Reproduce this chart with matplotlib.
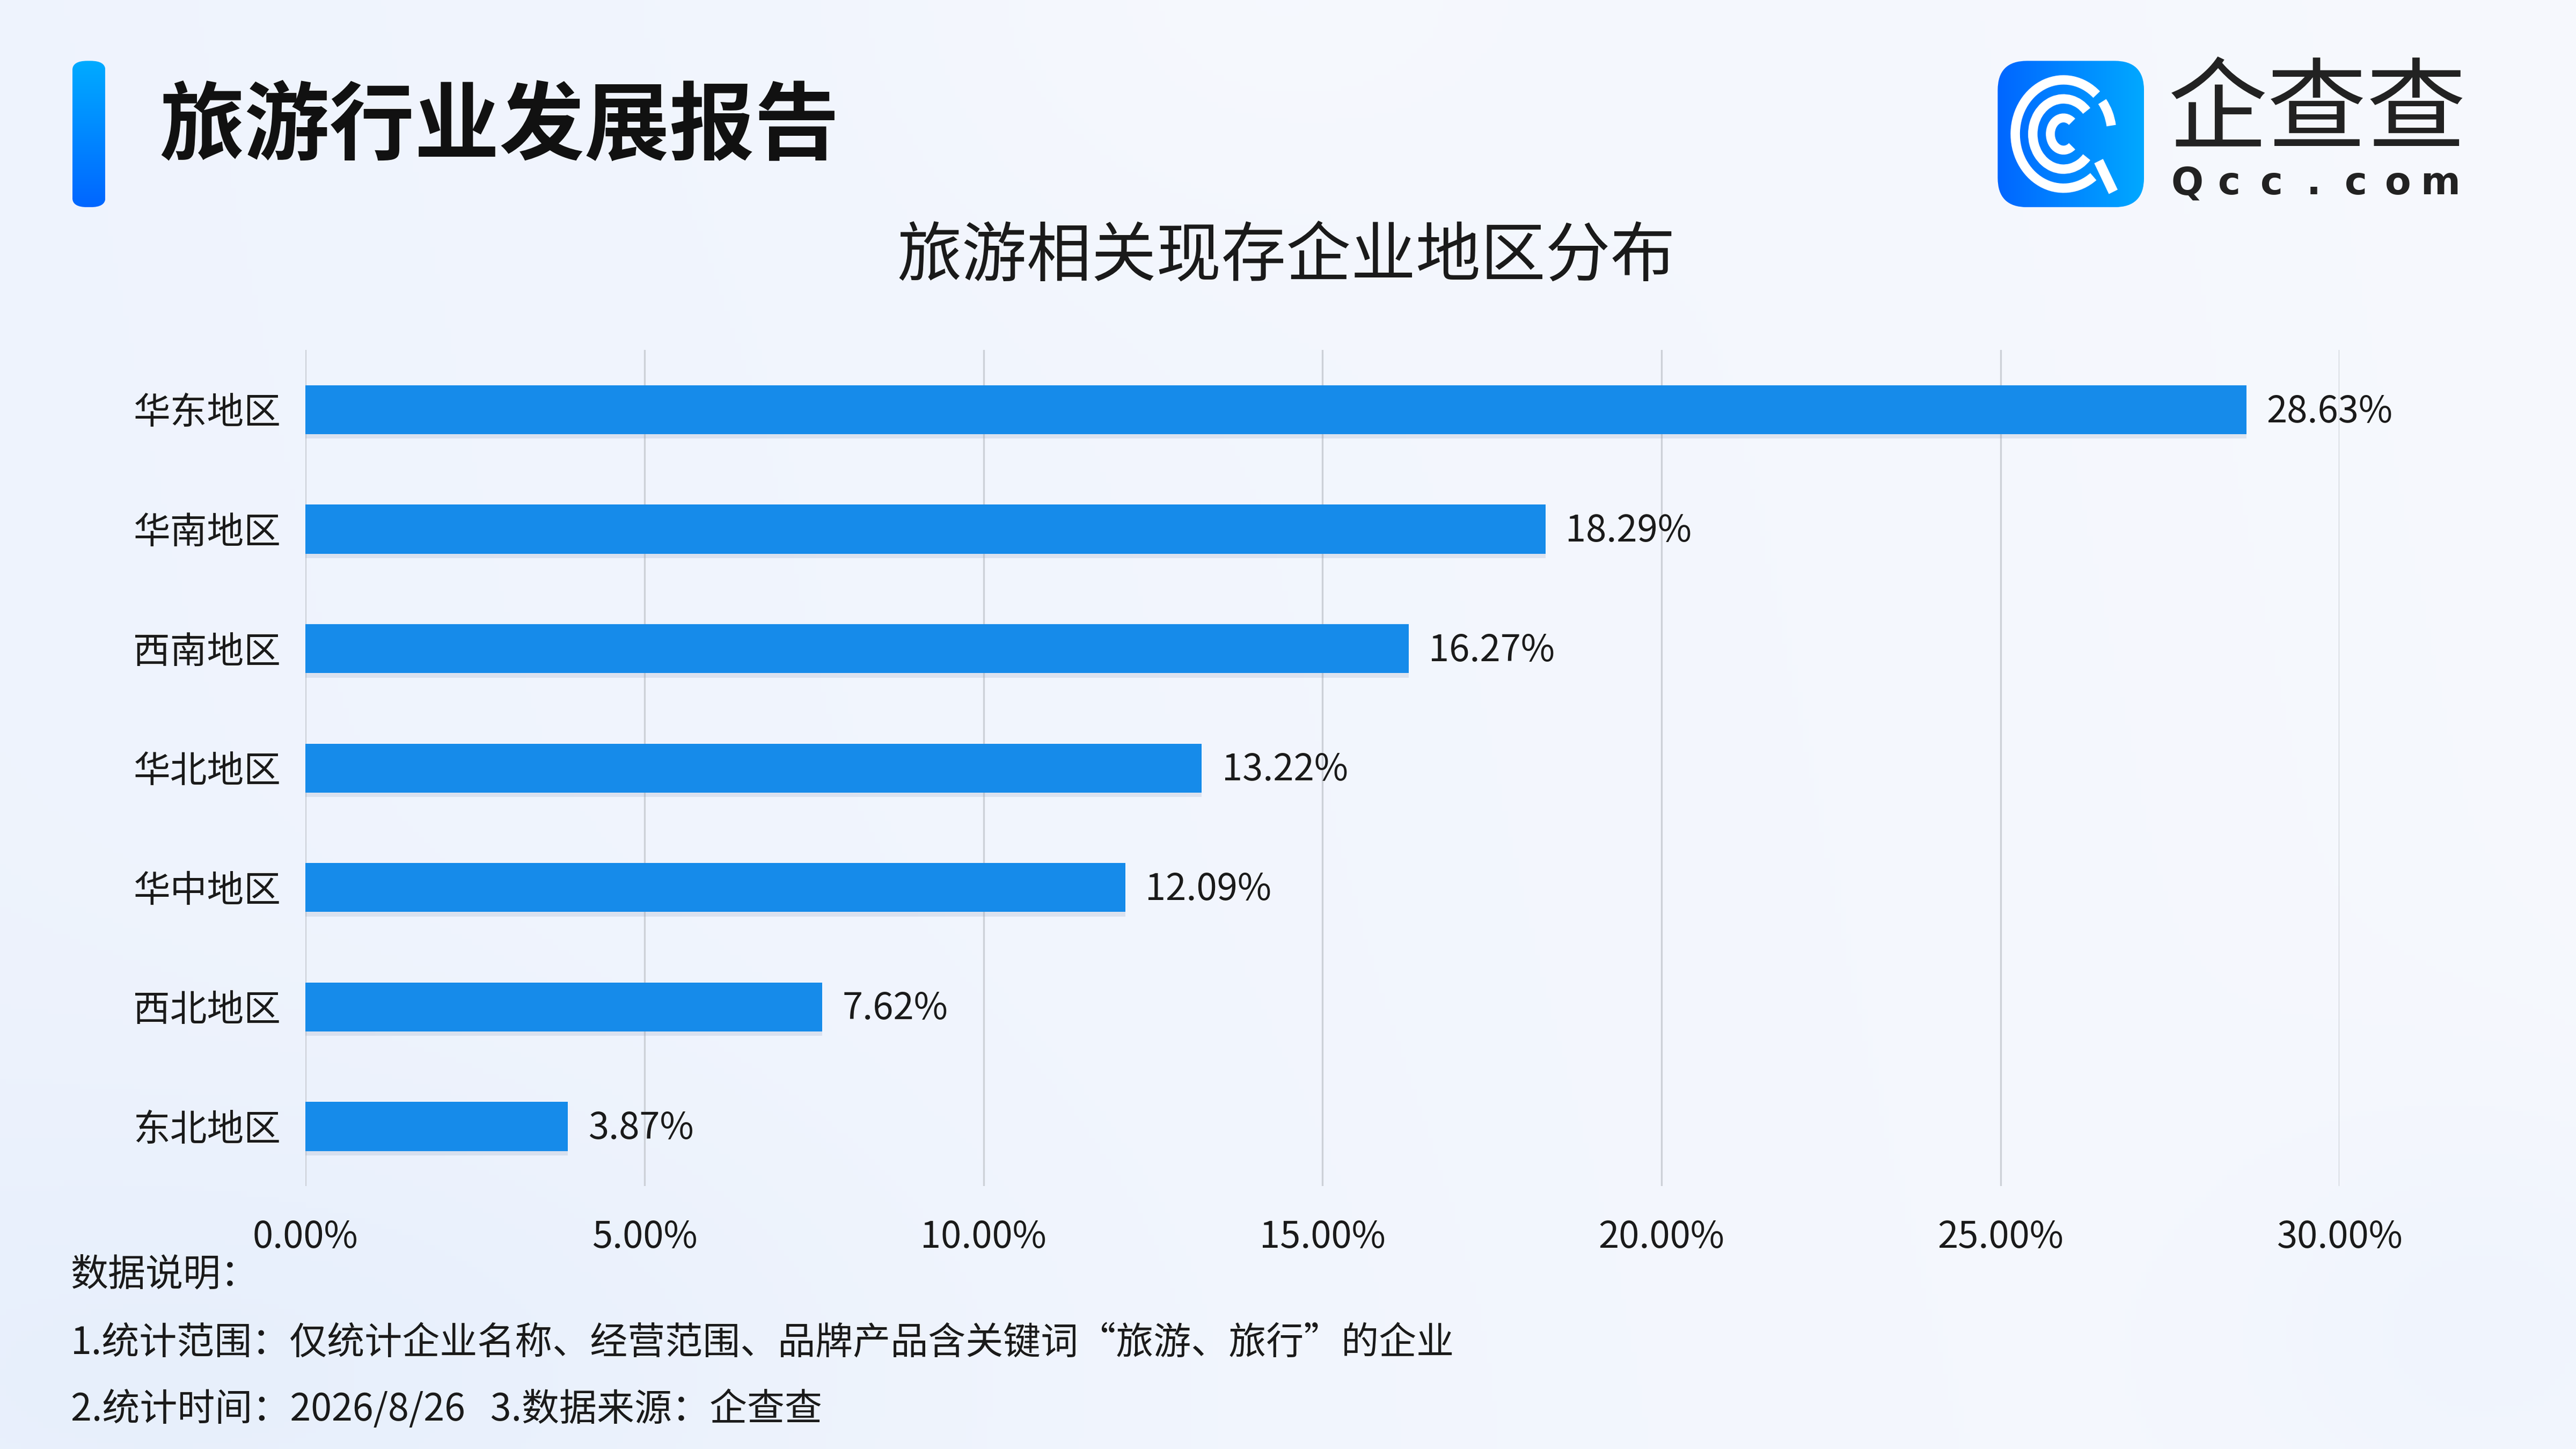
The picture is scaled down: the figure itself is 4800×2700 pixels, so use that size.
import numpy as np
import matplotlib
matplotlib.use('Agg')
import matplotlib.pyplot as plt
from matplotlib.patches import FancyBboxPatch, Arc, Polygon
import matplotlib.patheffects as pe

plt.rcParams['font.family'] = ['Noto Sans CJK SC', 'DejaVu Sans']

# data
regions = ['华东地区', '华南地区', '西南地区', '华北地区', '华中地区', '西北地区', '东北地区']
shares = [28.63, 18.29, 16.27, 13.22, 12.09, 7.62, 3.87]
x_ticks = [0, 5, 10, 15, 20, 25, 30]

title = '旅游行业发展报告'
subtitle = '旅游相关现存企业地区分布'
notes = ['数据说明：',
         '1.统计范围：仅统计企业名称、经营范围、品牌产品含关键词“旅游、旅行”的企业',
         '2.统计时间：2026/8/26   3.数据来源：企查查']

fig = plt.figure(figsize=(16, 9), dpi=300)

# background gradient
bg = fig.add_axes([0, 0, 1, 1], zorder=-10)
h, w = 270, 480
yy, xx = np.mgrid[0:1:h*1j, 0:1:w*1j]
base = np.array([0.933, 0.953, 0.992])
right = np.array([0.968, 0.976, 0.996])
t = np.clip(xx * 0.9 + (1 - yy) * 0.1, 0, 1)[..., None]
img = base * (1 - t) + right * t
blob = np.exp(-(((xx - 0.49) / 0.13) ** 2 + ((yy - 0.0) / 0.16) ** 2))[..., None]
img = img * (1 - 0.5 * blob) + np.array([0.975, 0.982, 0.998]) * 0.5 * blob
blob2 = np.exp(-(((xx - 0.08) / 0.25) ** 2 + ((yy - 0.95) / 0.2) ** 2))[..., None]
img = img * (1 - 0.6 * blob2) + np.array([0.89, 0.93, 0.985]) * 0.6 * blob2
blob3 = np.exp(-(((xx - 0.97) / 0.1) ** 2 + ((yy - 0.92) / 0.15) ** 2))[..., None]
img = img * (1 - 0.5 * blob3) + np.array([0.92, 0.945, 0.99]) * 0.5 * blob3
bg.imshow(img, aspect='auto', extent=[0, 1, 0, 1], origin='upper')
bg.set_xlim(0, 1)
bg.set_ylim(0, 1)
bg.axis('off')

# title accent bar with vertical gradient
tb = fig.add_axes([0.0281, 0.857, 0.0128, 0.101])
grad = np.linspace(0, 1, 100)[:, None]
c_top = np.array([0.0, 0.67, 1.0])
c_bot = np.array([0.0, 0.40, 1.0])
gimg = c_top * (1 - grad[..., None]) + c_bot * grad[..., None]
gimg = np.repeat(gimg, 10, axis=1)
im = tb.imshow(gimg, aspect='auto', extent=[0, 1, 0, 1], origin='upper')
clip = FancyBboxPatch((0, 0), 1, 1, boxstyle='round,pad=0,rounding_size=0.45',
                      mutation_aspect=0.14, transform=tb.transData, facecolor='none', edgecolor='none')
tb.add_patch(clip)
im.set_clip_path(clip)
tb.set_xlim(0, 1)
tb.set_ylim(0, 1)
tb.axis('off')

fig.text(0.0619, 0.9116, title, fontsize=38, fontweight='heavy', color='#111111',
         ha='left', va='center')

# logo
lg = fig.add_axes([0.7755, 0.857, 0.0568, 0.101])
grad2 = np.linspace(0, 1, 100)[None, :]
l_left = np.array([0.0, 0.40, 1.0])
l_right = np.array([0.0, 0.66, 1.0])
limg = l_left * (1 - grad2[..., None]) + l_right * grad2[..., None]
limg = np.repeat(limg, 100, axis=0)
im2 = lg.imshow(limg, aspect='auto', extent=[0, 1, 0, 1], origin='upper')
clip2 = FancyBboxPatch((0, 0), 1, 1, boxstyle='round,pad=0,rounding_size=0.2',
                       transform=lg.transData, facecolor='none', edgecolor='none')
lg.add_patch(clip2)
im2.set_clip_path(clip2)
cx, cy = 0.45, 0.5
lg.add_patch(Arc((cx, cy), 0.66, 0.74, theta1=50, theta2=305, color='white', lw=4.2))
lg.add_patch(Arc((cx, cy), 0.42, 0.48, theta1=45, theta2=315, color='white', lw=4.2))
lg.add_patch(Arc((cx, cy), 0.18, 0.22, theta1=55, theta2=305, color='white', lw=4.0))
lg.add_patch(Polygon([[0.66, 0.3], [0.72, 0.33], [0.82, 0.12], [0.76, 0.09]], closed=True,
                     facecolor='white', edgecolor='none'))
lg.add_patch(Arc((cx, cy), 0.66, 0.74, theta1=10, theta2=40, color='white', lw=4.2))
lg.set_xlim(0, 1)
lg.set_ylim(0, 1)
lg.axis('off')

fig.text(0.8416, 0.922, '企查查', fontsize=44.5, color='#222222', ha='left', va='center')
for i, ch in enumerate('Qcc.com'):
    fig.text(0.8490 + i * 0.0164, 0.873, ch, fontsize=17, fontweight='bold',
             color='#222222', ha='center', va='center', family=['DejaVu Sans'])

fig.text(0.4994, 0.822, subtitle, fontsize=29, color='#1a1a1a', ha='center', va='center')

# main chart
ax = fig.add_axes([0.1186, 0.1814, 0.7896, 0.5771])
ax.set_facecolor('none')
y = np.arange(len(regions))
bars = ax.barh(y, shares, height=0.41, color='#168BEA', zorder=3)
for b in bars:
    b.set_path_effects([pe.SimplePatchShadow(offset=(0, -2), shadow_rgbFace='#8090b0', alpha=0.18),
                        pe.Normal()])
for yi, v in zip(y, shares):
    ax.annotate(f'{v:.2f}%', (v, yi), xytext=(9, -1), textcoords='offset points',
                ha='left', va='center', fontsize=16.5, color='#1a1a1a')

ax.set_xlim(0, 30)
ax.set_ylim(len(regions) - 0.5, -0.5)
ax.set_xticks(x_ticks)
ax.set_xticklabels([f'{v:.2f}%' for v in x_ticks], fontsize=16.5, color='#1a1a1a')
ax.set_yticks(y)
ax.set_yticklabels(regions, fontsize=16.5, color='#1a1a1a')
ax.tick_params(axis='both', length=0)
ax.tick_params(axis='x', pad=14.5)
ax.tick_params(axis='y', pad=11)
ax.grid(axis='x', color='#CDD1D8', linewidth=0.8, zorder=0)
for s in ax.spines.values():
    s.set_visible(False)

for i, line in enumerate(notes):
    fig.text(0.0274, [0.1202, 0.0726, 0.0272][i], line, fontsize=16.8, color='#1a1a1a',
             ha='left', va='center')

fig.savefig('out.png', dpi=300)
